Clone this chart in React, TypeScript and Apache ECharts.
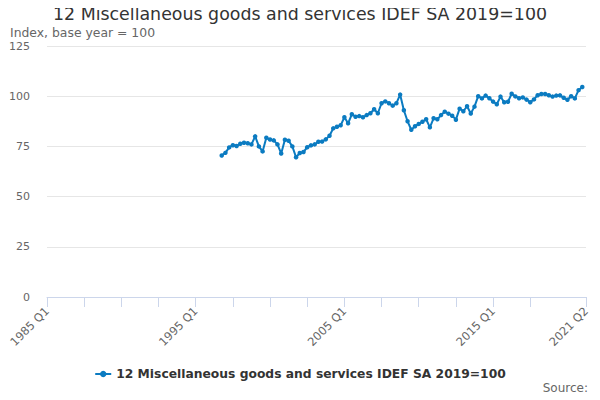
import React, { useEffect, useRef } from "react";
import * as echarts from "echarts";

const startYear = 1985;
const quarterCount = 146; // 1985 Q1 .. 2021 Q2
const categories: string[] = Array.from({ length: quarterCount }, (_, i) =>
  `${startYear + Math.floor(i / 4)} Q${(i % 4) + 1}`
);

// Index values from 1996 Q4 (category index 47) to 2021 Q1 (index 144)
const firstIndex = 47;
const indexValues: number[] = [
  70.5, 71.8, 74.5, 75.6, 75.2, 76.3, 76.8, 76.6, 76.0, 80.0,
  75.0, 72.5, 79.3, 78.4, 78.0, 76.0, 71.5, 78.3, 77.8, 75.0,
  69.6, 71.7, 72.2, 74.6, 75.5, 76.0, 77.3, 77.4, 78.5, 80.3,
  84.0, 84.8, 85.5, 89.5, 86.5, 91.0, 89.8, 90.1, 89.5, 90.6,
  91.5, 93.5, 91.5, 96.5, 97.4, 96.5, 95.3, 96.5, 100.8, 93.0,
  87.5, 83.3, 85.0, 86.2, 87.3, 88.5, 84.5, 89.0, 88.5, 90.6,
  92.3, 91.3, 90.3, 88.3, 93.8, 92.5, 95.0, 91.4, 94.8, 100.0,
  98.9, 100.3, 99.0, 97.3, 96.0, 99.8, 97.0, 97.2, 101.2, 99.9,
  99.0, 99.4, 98.3, 97.0, 98.4, 100.5, 101.1, 101.1, 100.5, 99.8,
  100.3, 100.4, 99.2, 98.2, 100.0, 98.9, 103.0, 104.6,
];

const yTicks = { min: 0, max: 125, interval: 25 };
const labelEvery = 40;
const tickEvery = 10;

const titleText = "12 Miscellaneous goods and services IDEF SA 2019=100";
const seriesName = "12 Miscellaneous goods and services IDEF SA 2019=100";

export default function App() {
  const ref = useRef<HTMLDivElement>(null);

  useEffect(() => {
    if (!ref.current) return;
    const chart = echarts.init(ref.current, null, { renderer: "svg" });
    const seriesData: (number | null)[] = categories.map((_, i) => {
      const k = i - firstIndex;
      return k >= 0 && k < indexValues.length ? indexValues[k] : null;
    });
    const last = quarterCount - 1;
    const font = "DejaVu Sans";
    chart.setOption({
      animation: false,
      textStyle: { fontFamily: font },
      title: {
        text: titleText,
        left: "center",
        top: 4,
        padding: 0,
        textStyle: { fontFamily: font, fontSize: 17.4, fontWeight: "normal", color: "#333333", lineHeight: 20 },
      },
      graphic: [
        {
          type: "text",
          left: 10,
          top: 26,
          style: { text: "Index, base year = 100", fontFamily: font, fontSize: 12.4, fill: "#666666" },
        },
        {
          type: "text",
          right: 12,
          top: 382,
          style: { text: "Source:", fontFamily: font, fontSize: 12, fill: "#666666" },
        },
      ],
      legend: {
        bottom: 15,
        left: "center",
        itemWidth: 16,
        itemHeight: 8,
        textStyle: { fontFamily: font, fontSize: 12.3, fontWeight: "bold", color: "#333333" },
        data: [seriesName],
      },
      grid: { left: 47, right: 14, top: 46, bottom: 103 },
      xAxis: {
        type: "category",
        data: categories,
        boundaryGap: false,
        axisLine: { lineStyle: { color: "#ccd6eb" } },
        axisTick: {
          length: 10,
          lineStyle: { color: "#ccd6eb" },
          interval: (i: number) => (i % tickEvery === 0 && i <= 130) || i === last,
        },
        axisLabel: {
          rotate: 45,
          margin: 12,
          color: "#666666",
          fontSize: 11.5,
          fontFamily: font,
          interval: (i: number) => i % labelEvery === 0 || i === last,
        },
        splitLine: { show: false },
      },
      yAxis: {
        type: "value",
        min: yTicks.min,
        max: yTicks.max,
        interval: yTicks.interval,
        axisLine: { show: false },
        axisTick: { show: false },
        axisLabel: { color: "#666666", fontSize: 11, fontFamily: font, margin: 17 },
        splitLine: { lineStyle: { color: "#e6e6e6" } },
      },
      series: [
        {
          name: seriesName,
          type: "line",
          data: seriesData,
          showSymbol: true,
          showAllSymbol: true,
          symbol: "circle",
          symbolSize: 4.5,
          connectNulls: false,
          itemStyle: { color: "#0b7bc1" },
          lineStyle: { color: "#0b7bc1", width: 2 },
        },
      ],
    });
    return () => chart.dispose();
  }, []);

  return <div ref={ref} style={{ width: 600, height: 400, margin: -8 }} />;
}
